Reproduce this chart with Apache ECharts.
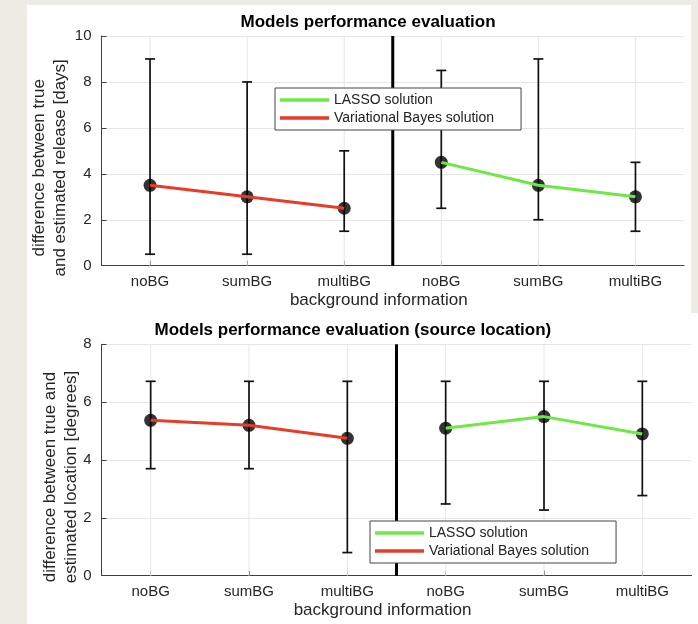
<!DOCTYPE html>
<html>
<head>
<meta charset="utf-8">
<script src="https://cdn.jsdelivr.net/npm/echarts@6/dist/echarts.min.js"></script>
<style>
html, body { margin: 0; padding: 0; background: #ecebe4; }
#p1 { position: absolute; left: 27px; top: 5px; width: 664px; height: 308px; background: #fff; }
#p2 { position: absolute; left: 27px; top: 313px; width: 671px; height: 311px; background: #fff; }
#chart { position: absolute; left: 0; top: 0; width: 698px; height: 624px; }
</style>
</head>
<body>
<div id="p1"></div>
<div id="p2"></div>
<div id="chart"></div>
<script>
// ---------- data ----------
const categories = ['noBG', 'sumBG', 'multiBG', 'noBG', 'sumBG', 'multiBG'];
const seriesNames = ['LASSO solution', 'Variational Bayes solution'];

// top panel: release time error [days]
const releaseVB    = [3.5, 3.0, 2.5, '-', '-', '-'];
const releaseLASSO = ['-', '-', '-', 4.5, 3.5, 3.0];
const releaseMean  = [3.5, 3.0, 2.5, 4.5, 3.5, 3.0];
const releaseLow   = [0.5, 0.5, 1.5, 2.5, 2.0, 1.5];
const releaseHigh  = [9.0, 8.0, 5.0, 8.5, 9.0, 4.5];
const releaseTicks = [0, 2, 4, 6, 8, 10];

// bottom panel: source location error [degrees]
const locationVB    = [5.37, 5.2, 4.75, '-', '-', '-'];
const locationLASSO = ['-', '-', '-', 5.1, 5.5, 4.9];
const locationMean  = [5.37, 5.2, 4.75, 5.1, 5.5, 4.9];
const locationLow   = [3.7, 3.7, 0.8, 2.48, 2.27, 2.77];
const locationHigh  = [6.72, 6.72, 6.72, 6.72, 6.72, 6.72];
const locationTicks = [0, 2, 4, 6, 8];

// divider between the two groups (between category index 2 and 3)
const dividerBetween = [2, 3];

// ---------- styling ----------
const FONT = '"Liberation Sans", Arial, Helvetica, sans-serif';
const TXT = '#262626';
const AX = '#404040';
const RED = '#e63c28';
const GREEN = '#6ee846';

const chart = echarts.init(document.getElementById('chart'));

function errorBarItem(params, api) {
  const x = api.value(0);
  const lo = api.coord([x, api.value(1)]);
  const hi = api.coord([x, api.value(2)]);
  const half = 5;
  const style = { stroke: '#111', lineWidth: 1.7 };
  return {
    type: 'group',
    children: [
      { type: 'line', shape: { x1: lo[0], y1: lo[1], x2: hi[0], y2: hi[1] }, style },
      { type: 'line', shape: { x1: lo[0] - half, y1: lo[1], x2: lo[0] + half, y2: lo[1] }, style },
      { type: 'line', shape: { x1: hi[0] - half, y1: hi[1], x2: hi[0] + half, y2: hi[1] }, style }
    ]
  };
}
function vGridItem(params, api) {
  const p = api.coord([api.value(0), 0]);
  const cs = params.coordSys;
  return { type: 'line', shape: { x1: p[0], y1: cs.y, x2: p[0], y2: cs.y + cs.height },
           style: { stroke: '#e6e6e6', lineWidth: 1 } };
}
function dividerItem(params, api) {
  const a = api.coord([api.value(0), 0]);
  const b = api.coord([api.value(1), 0]);
  const x = (a[0] + b[0]) / 2;
  const cs = params.coordSys;
  return { type: 'line', shape: { x1: x, y1: cs.y, x2: x, y2: cs.y + cs.height },
           style: { stroke: '#000', lineWidth: 3 } };
}

function xAxisFor(gridIndex) {
  return {
    type: 'category', gridIndex, data: categories, boundaryGap: true,
    name: 'background information', nameLocation: 'middle', nameGap: 26, nameMoveOverlap: false,
    nameTextStyle: { fontSize: 17, lineHeight: 17, color: TXT, fontFamily: FONT, padding: [0, 28, 0, 0] },
    axisLine: { show: true, lineStyle: { color: AX, width: 1 } },
    axisTick: { show: true, inside: true, alignWithLabel: true, length: 5, lineStyle: { color: AX } },
    axisLabel: { interval: 0, fontSize: 15, margin: 9, color: TXT, fontFamily: FONT },
    splitLine: { show: false }
  };
}
function yAxisFor(gridIndex, ticks, name, gap) {
  return {
    type: 'value', gridIndex,
    min: ticks[0], max: ticks[ticks.length - 1], interval: ticks[1] - ticks[0],
    name, nameLocation: 'middle', nameRotate: 90, nameGap: gap, nameMoveOverlap: false,
    nameTextStyle: { fontSize: 17, lineHeight: 21, color: TXT, fontFamily: FONT, padding: [0, 34, 0, 0] },
    axisLine: { show: true, lineStyle: { color: AX, width: 1 } },
    axisTick: { show: true, inside: true, length: 5, lineStyle: { color: AX } },
    axisLabel: { fontSize: 15, margin: 10, color: TXT, fontFamily: FONT },
    splitLine: { show: true, lineStyle: { color: '#e6e6e6', width: 1 } }
  };
}
function legendFor(left, top) {
  return {
    data: seriesNames, orient: 'vertical', left, top,
    padding: [5, 27, 5, 5], itemWidth: 49, itemHeight: 3.5, itemGap: 4, icon: 'rect',
    backgroundColor: '#fff', borderColor: '#444', borderWidth: 1, borderRadius: 0,
    textStyle: { fontSize: 14, lineHeight: 14, color: '#222', fontFamily: FONT },
    selectedMode: false, z: 20
  };
}
function panelSeries(gi, vb, lasso, mean, low, high) {
  const idx = categories.map((c, i) => i);
  return [
    { type: 'custom', xAxisIndex: gi, yAxisIndex: gi, z: 1, silent: true,
      renderItem: vGridItem, data: idx.map(i => [i, 0]), encode: { x: 0, y: 1 } },
    { type: 'custom', xAxisIndex: gi, yAxisIndex: gi, z: 3, silent: true,
      renderItem: dividerItem, data: [[dividerBetween[0], dividerBetween[1]]], encode: { x: [0, 1] } },
    { type: 'custom', xAxisIndex: gi, yAxisIndex: gi, z: 4, silent: true,
      renderItem: errorBarItem, data: idx.map(i => [i, low[i], high[i]]), encode: { x: 0, y: [1, 2] } },
    { type: 'scatter', xAxisIndex: gi, yAxisIndex: gi, z: 5, silent: true,
      symbol: 'circle', symbolSize: 13, itemStyle: { color: '#000' }, data: mean },
    { type: 'line', name: seriesNames[1], xAxisIndex: gi, yAxisIndex: gi, z: 6, silent: true,
      symbol: 'none', data: vb, itemStyle: { color: RED },
      lineStyle: { color: RED, width: 3 } },
    { type: 'line', name: seriesNames[0], xAxisIndex: gi, yAxisIndex: gi, z: 6, silent: true,
      symbol: 'none', data: lasso, itemStyle: { color: GREEN },
      lineStyle: { color: GREEN, width: 3 } }
  ];
}

const option = {
  animation: false,
  backgroundColor: 'transparent',
  title: [
    { text: 'Models performance evaluation', left: 240.5, top: 14, padding: 0,
      textStyle: { fontSize: 17, fontWeight: 'bold', lineHeight: 17, color: '#000', fontFamily: FONT } },
    { text: 'Models performance evaluation (source location)', left: 154.5, top: 322, padding: 0,
      textStyle: { fontSize: 17, fontWeight: 'bold', lineHeight: 17, color: '#000', fontFamily: FONT } }
  ],
  legend: [legendFor(275, 88), legendFor(370, 521)],
  grid: [
    { left: 101.5, top: 36, width: 582.5, height: 229.7, containLabel: false },
    { left: 101.5, top: 344.3, width: 590, height: 231.4, containLabel: false }
  ],
  xAxis: [xAxisFor(0), xAxisFor(1)],
  yAxis: [
    yAxisFor(0, releaseTicks, 'difference between true\nand estimated release [days]', 30.5),
    yAxisFor(1, locationTicks, 'difference between true and\nestimated location [degrees]', 20)
  ],
  series: [
    ...panelSeries(0, releaseVB, releaseLASSO, releaseMean, releaseLow, releaseHigh),
    ...panelSeries(1, locationVB, locationLASSO, locationMean, locationLow, locationHigh)
  ]
};
chart.setOption(option);
</script>
</body>
</html>
